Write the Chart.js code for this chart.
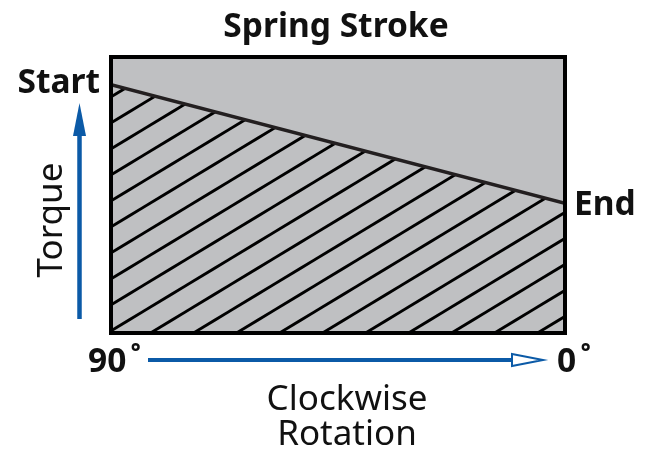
<!DOCTYPE html>
<html>
<head>
<meta charset="utf-8">
<script src="https://cdn.jsdelivr.net/npm/chart.js@4"></script>
<style>
  html, body { margin: 0; padding: 0; background: #fff; }
  #wrap { width: 652px; height: 453px; }
</style>
</head>
<body>
<div id="wrap"><canvas id="springChart"></canvas></div>
<script>
// rotation runs from 90 deg (left) down to 0 deg (right)
const rotationDeg = [90, 0];
const torqueValues = [90, 47];
const pointLabels = ['Start', 'End'];
const angleLabels = ['90˚', '0˚'];
const chartTitle = 'Spring Stroke';
const yTitle = 'Torque';
const xTitle = ['Clockwise', 'Rotation'];

const fontFamily = '"Noto Sans", sans-serif';
const blue = '#0b5aa7';
const areaGray = '#bfc0c2';

function makeHatch() {
    const w = 43, h = 26, off = 8;
    const tile = document.createElement('canvas');
    tile.width = w;
    tile.height = h;
    const t = tile.getContext('2d');
    t.strokeStyle = '#000';
    t.lineWidth = 2.8;
    for (let k = -1; k <= 2; k++) {
        const c = off + k * h;
        t.beginPath();
        t.moveTo(-5, c + 5 * h / w);
        t.lineTo(w + 5, c - (w + 5) * h / w);
        t.stroke();
    }
    return t.createPattern(tile, 'repeat');
}

// number then a gap then the degree ring
function drawAngle(ctx, label, left, y) {
    const num = label.slice(0, -1), ring = label.slice(-1);
    ctx.textAlign = 'left';
    ctx.fillText(num, left, y);
    const w = ctx.measureText(num).width;
    ctx.fillText(ring, left + w + 4, y);
}

const framePlugin = {
    id: 'frame',
    beforeDatasetsDraw(chart) {
        const { ctx, chartArea: a } = chart;
        ctx.save();
        ctx.fillStyle = areaGray;
        ctx.fillRect(a.left, a.top, a.right - a.left, a.bottom - a.top);
        ctx.restore();
    },
    afterDatasetsDraw(chart) {
        const { ctx, chartArea: a } = chart;
        ctx.save();
        ctx.strokeStyle = '#000';
        ctx.lineWidth = 4;
        ctx.strokeRect(a.left, a.top, a.right - a.left, a.bottom - a.top);
        ctx.restore();
    },
    afterDraw(chart) {
        const { ctx } = chart;
        const xs = chart.scales.x, ys = chart.scales.y;
        ctx.save();
        ctx.fillStyle = '#111';

        // title
        ctx.font = 'bold 33.5px ' + fontFamily;
        ctx.textAlign = 'center';
        ctx.textBaseline = 'alphabetic';
        ctx.fillText(chartTitle, 336, 37);

        // start / end labels
        ctx.font = 'bold 33.5px ' + fontFamily;
        ctx.textAlign = 'right';
        ctx.fillText(pointLabels[0], xs.getPixelForValue(rotationDeg[0]) - 11, ys.getPixelForValue(torqueValues[0]) + 8.5);
        ctx.textAlign = 'left';
        ctx.fillText(pointLabels[1], xs.getPixelForValue(rotationDeg[1]) + 9, ys.getPixelForValue(torqueValues[1]) + 12);

        // angle labels
        drawAngle(ctx, angleLabels[0], xs.getPixelForValue(rotationDeg[0]) - 23, 372);
        drawAngle(ctx, angleLabels[1], xs.getPixelForValue(rotationDeg[1]) - 8, 372);

        // axis titles
        ctx.font = '35px ' + fontFamily;
        ctx.textAlign = 'center';
        ctx.fillText(xTitle[0], 347, 410);
        ctx.fillText(xTitle[1], 347, 445);
        ctx.save();
        ctx.translate(61.5, 220);
        ctx.rotate(-Math.PI / 2);
        ctx.fillText(yTitle, 0, 0);
        ctx.restore();

        // vertical arrow
        ctx.strokeStyle = blue;
        ctx.fillStyle = blue;
        ctx.lineWidth = 4.5;
        ctx.beginPath();
        ctx.moveTo(79.5, 319);
        ctx.lineTo(79.5, 132);
        ctx.stroke();
        ctx.beginPath();
        ctx.moveTo(79.5, 103);
        ctx.lineTo(86, 136);
        ctx.lineTo(73, 136);
        ctx.closePath();
        ctx.fill();

        // horizontal arrow with open head
        ctx.lineWidth = 4;
        ctx.beginPath();
        ctx.moveTo(148, 360);
        ctx.lineTo(512, 360);
        ctx.stroke();
        ctx.lineWidth = 2;
        ctx.fillStyle = '#fff';
        ctx.beginPath();
        ctx.moveTo(512, 354);
        ctx.lineTo(543, 360);
        ctx.lineTo(512, 366);
        ctx.closePath();
        ctx.fill();
        ctx.stroke();

        ctx.restore();
    }
};

const chart = new Chart(document.getElementById('springChart'), {
    type: 'line',
    data: {
        datasets: [{
            data: rotationDeg.map((d, i) => ({ x: d, y: torqueValues[i] })),
            borderColor: '#231f20',
            borderWidth: 3.5,
            backgroundColor: makeHatch(),
            fill: 'origin',
            pointRadius: 0,
            tension: 0
        }]
    },
    options: {
        responsive: true,
        maintainAspectRatio: false,
        animation: false,
        layout: { padding: { left: 111, top: 57, right: 87, bottom: 120 } },
        scales: {
            x: { type: 'linear', min: 0, max: 90, reverse: true, display: false },
            y: { min: 0, max: 100, display: false }
        },
        plugins: {
            legend: { display: false },
            tooltip: { enabled: false }
        }
    },
    plugins: [framePlugin]
});
</script>
</body>
</html>
